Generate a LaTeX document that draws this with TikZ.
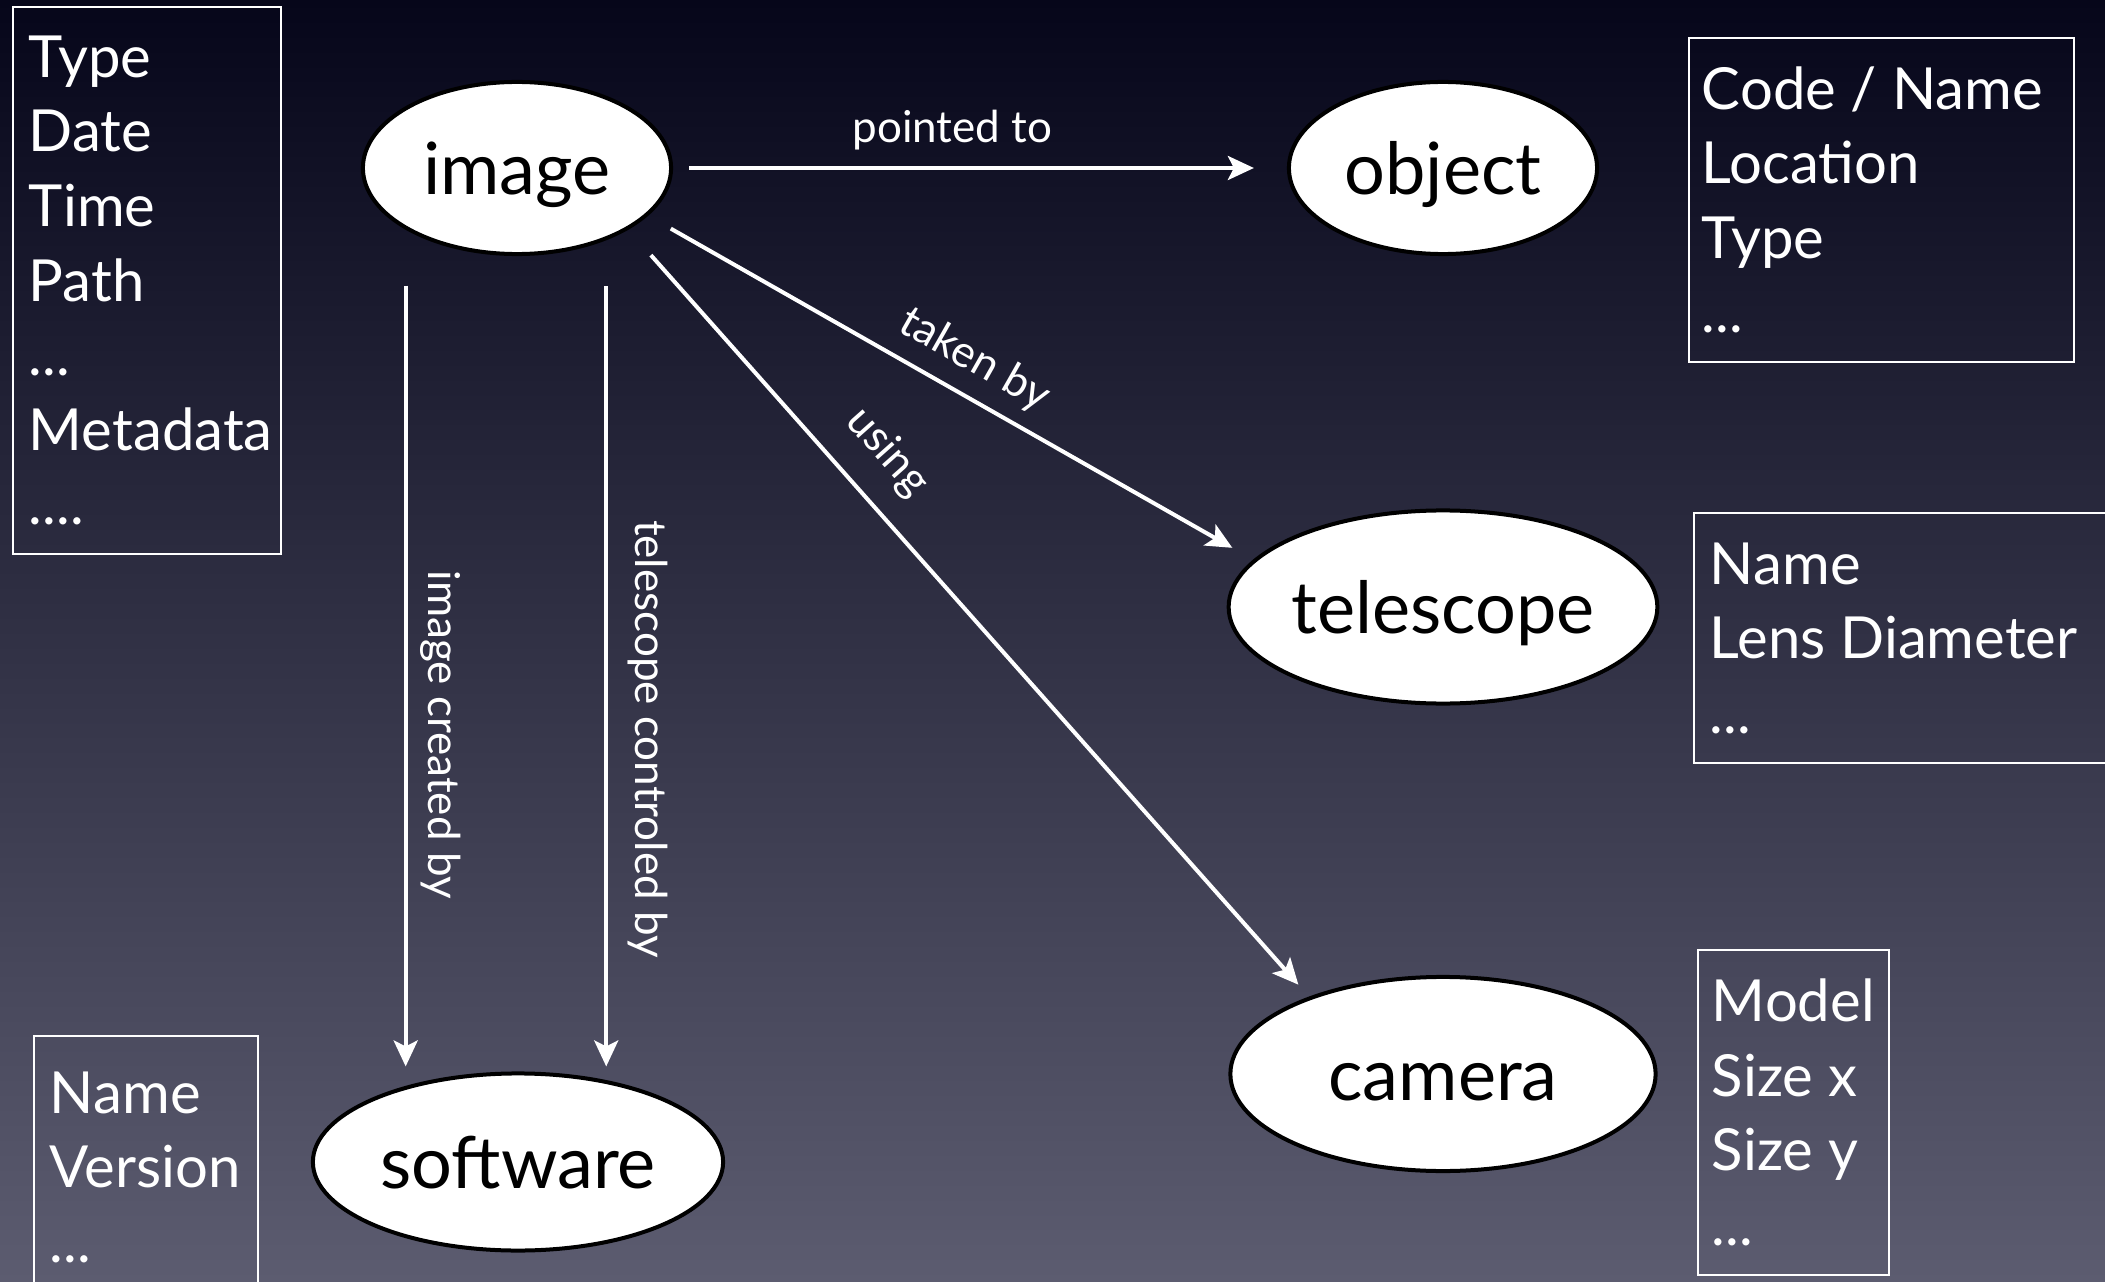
\documentclass[tikz,border=0pt]{standalone}
\usepackage{fontspec}
\setmainfont{Lato}
\usepackage{tikz}
\usetikzlibrary{arrows.meta,shapes.geometric}

\definecolor{bgtop}{RGB}{6,6,26}
\definecolor{bgmid}{RGB}{36,36,64}
\definecolor{bgbot}{RGB}{92,92,112}

\tikzset{
    entity/.style={ellipse, draw=black, line width=0.04cm, fill=white, inner sep=0, text height=0.52cm, text depth=0cm, font=\fontsize{20.5}{24}\selectfont},
    attrbox/.style={draw=white, line width=0.02cm, text=white, align=flush left, inner ysep=0, inner xsep=0.16cm, font=\fontsize{16.5}{21.2}\selectfont},
    link/.style={draw=white, line width=0.04cm, -{Stealth[length=0.26cm,width=0.24cm,inset=0.06cm]}},
    rel/.style={text=white, inner sep=0, font=\fontsize{12.5}{15}\selectfont}
}

\begin{document}
\begin{tikzpicture}[x=0.01cm, y=0.01cm]
    \path [use as bounding box] (0,0) rectangle (2105,-1282);
    \clip (0,0) rectangle (2105,-1282);
    \shade [top color=bgtop, middle color=bgmid, bottom color=bgbot] (0,0) rectangle (2105,-1282);

    \node[entity, minimum width=3.08cm, minimum height=1.72cm] (image) at (517,-168) {image};
    \node[entity, minimum width=3.08cm, minimum height=1.72cm] (object) at (1443,-168) {object};
    \node[entity, minimum width=4.28cm, minimum height=1.93cm] (telescope) at (1443,-607) {telescope};
    \node[entity, minimum width=4.25cm, minimum height=1.94cm] (camera) at (1443,-1074) {camera};
    \node[entity, minimum width=4.10cm, minimum height=1.77cm] (software) at (518,-1162) {software};

    \node[attrbox, text width=2.36cm, minimum height=5.47cm] (imageattr) at (147,-280.5) {Type\\Date\\Time\\Path\\...\\Metadata\\....};
    \node[attrbox, text width=3.59cm, inner xsep=0.13cm, minimum height=3.24cm] (objectattr) at (1881.5,-200) {Code / Name\\Location\\Type\\...};
    \node[attrbox, text width=4.08cm, minimum height=2.50cm] (telescopeattr) at (1914,-638) {Name\\Lens Diameter\\...};
    \node[attrbox, text width=1.63cm, inner xsep=0.14cm, minimum height=3.25cm] (cameraattr) at (1793.5,-1112.5) {Model\\Size x\\Size y\\...};
    \node[attrbox, text width=1.92cm, minimum height=2.62cm] (softwareattr) at (146,-1167) {Name\\Version\\...};

    \draw [link, shorten <=0.16cm, shorten >=0.33cm] (image.east) -- (object.west) node[rel, pos=0.455, above=0.16cm] {pointed to};
    \draw [link, shorten <=0.26cm, shorten >=0.24cm] (image.-20) -- (telescope.166) node[rel, pos=0.51, sloped, above=0.14cm] {taken by};
    \draw [link, shorten <=0.34cm, shorten >=0.16cm] (image.-29.6) -- (camera.150.5) node[rel, pos=0.33, sloped, above=0.24cm] {using};
    \draw [link, shorten <=0.56cm, shorten >=0.05cm] (image.209.5) -- (image.209.5 |- software.north) node[rel, pos=0.6, rotate=-90, above=0.13cm] {image created by};
    \draw [link, shorten <=0.46cm, shorten >=0.05cm] (image.-39.7) -- (image.-39.7 |- software.north) node[rel, pos=0.6, rotate=-90, above=0.2cm] {telescope controled by};
\end{tikzpicture}
\end{document}
